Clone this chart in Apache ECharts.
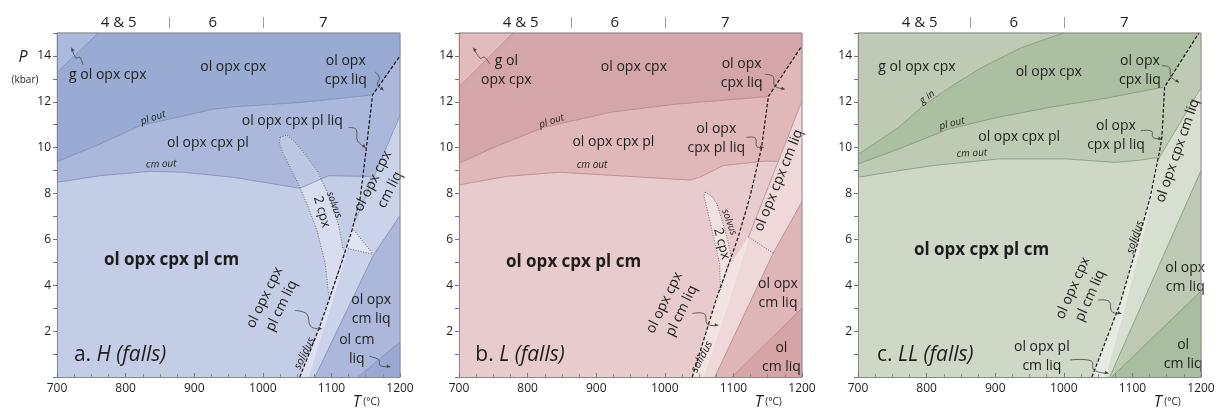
<!DOCTYPE html>
<html><head><meta charset="utf-8">
<script src="https://cdn.jsdelivr.net/npm/echarts@6/dist/echarts.min.js"></script>
<style>html,body{margin:0;padding:0;background:#fff}#c{width:1225px;height:410px}</style>
</head><body><div id="c"></div>
<script>
// ---------- data (T in °C, P in kbar) ----------
const TOP_GROUP_LABELS = ['4 & 5', '6', '7'];
const TOP_GROUP_T = [790, 927, 1088];
const TOP_SEPARATOR_T = [863, 1000];

// Panel a: H (falls)
const A_G_IN = [[700,13.27],[760,15]];
const A_PL_OUT = [[700,9.39],[763,10.16],[821,10.96],[928,11.68],[957,11.78],[1054,11.97],[1160,12.3]];
const A_CM_OUT = [[700,8.49],[763,8.78],[836,8.97],[884,8.93],[957,8.71],[1054,8.23],[1096,8.78],[1147,8.75]];
const A_SOLIDUS = [[1054,0],[1083,2.2],[1098,3.5],[1115,5.0],[1130,6.4],[1142,7.8],[1151,10.0],[1160,12.3],[1200,14.0]];
const A_L1 = [[1200,11.4],[1133,6.7]];
const A_M = [[1133,6.7],[1104,3.6],[1066,0]];
const A_L2 = [[1200,7.04],[1161,5.3],[1076,0]];
const A_L3 = [[1200,1.53],[1139,0]];
const A_TRIANGLE = [[1130,6.5],[1161,5.35],[1124,5.6]];
const A_SOLVUS = [[1025,10.45],[1035,10.55],[1045,10.3],[1062,9.7],[1079,9.0],[1090,8.3],[1098,7.84],[1110,6.68],[1117,5.6],[1120,5.5],[1115,5.0],[1098,3.5],[1096,3.6],[1091,4.94],[1079,6.39],[1065,7.5],[1054,8.27],[1042,9.0],[1030,9.72],[1024,10.2]];
const A_SOLVUS_UPPER = [[1054,8.23],[1042,9.0],[1030,9.72],[1024,10.2],[1025,10.45],[1035,10.55],[1045,10.3],[1062,9.7],[1079,9.0],[1083,8.64]];

// Panel b: L (falls)
const B_G_IN = [[700,12.65],[779,15]];
const B_PL_OUT = [[700,9.32],[750,10.0],[823,10.88],[920,11.54],[1017,11.9],[1151,12.23]];
const B_CM_OUT = [[700,8.38],[770,8.75],[847,8.93],[969,8.71],[1037,8.59],[1051,8.71],[1085,9.22],[1144,9.41]];
const B_SOLIDUS = [[1040,0],[1076,3.49],[1090,4.65],[1107,6.1],[1124,7.84],[1141,10.0],[1151,12.23],[1200,14.45]];
const B_L1 = [[1200,12.04],[1122,6.1]];
const B_M = [[1122,6.1],[1094,3.4],[1056,0]];
const B_L2 = [[1200,7.65],[1158,5.4],[1073,0]];
const B_L3 = [[1200,3.0],[1098,0]];
const B_DOTTED = [[1122,6.1],[1158,5.4]];
const B_SOLVUS = [[1059,8.06],[1068,7.9],[1076,7.55],[1085,6.68],[1093,5.81],[1097,5.2],[1093,4.9],[1081,3.8],[1080,4.94],[1071,6.1],[1061,7.4],[1057,7.9]];

// Panel c: LL (falls)
const C_G_IN = [[700,9.7],[759,10.88],[798,11.9],[840,12.75],[880,13.49],[938,14.36],[987,14.87],[1000,15]];
const C_PL_OUT = [[700,9.29],[760,9.95],[832,10.81],[900,11.3],[978,11.75],[1060,12.15],[1147,12.65]];
const C_CM_OUT = [[700,8.71],[760,9.0],[809,9.22],[906,9.51],[1003,9.51],[1075,9.36],[1110,9.45],[1130,9.55]];
const C_SOLIDUS = [[1041,0],[1082,3.2],[1106,5.67],[1126,7.84],[1140,9.9],[1143,10.45],[1147,12.65],[1197,15]];
const C_L1 = [[1200,12.62],[1138,9.5]];
const C_M = [[1138,9.5],[1118,6.5],[1088,3.0],[1060,0]];
const C_L2 = [[1200,9.0],[1067,0]];
const C_L3 = [[1200,3.75],[1070,0]];

// ---------- styles / layout ----------
const FONT = '"Open Sans", "DejaVu Sans", sans-serif';
const TXT = '#1d1d1b';
const PANELS = [
  { left:57, title:['a. ','H (falls)'], titleT:792,
    gIn:A_G_IN, plOut:A_PL_OUT, cmOut:A_CM_OUT, solidus:A_SOLIDUS, L1:A_L1, M:A_M, L2:A_L2, L3:A_L3,
    solvus:A_SOLVUS, solvusUpper:A_SOLVUS_UPPER, triangle:A_TRIANGLE,
    dotted:[[A_TRIANGLE[0],A_TRIANGLE[1]],[A_TRIANGLE[2],A_TRIANGLE[1]]],
    col:{dark:'#9aabd3', g:'#abb9dc', medium:'#abb8dc', base:'#c4cde6', band:'#cbd3ea', strip:'#dce1f1',
         tri:'#e0e5f3', solUp:'#bdc7e4', sol:'#d8deef', olopx:'#abb7db', olcm:'#99a9d2', line:'#7e8eb9', mline:'#e4e8f4'},
    labels:[
      {t:'g ol opx cpx', T:774, P:13.17},
      {t:'ol opx cpx', T:957, P:13.53},
      {t:'ol opx\ncpx liq', T:1121, P:13.38},
      {t:'pl out', T:840, P:11.3, r:18, s:10, i:1},
      {t:'ol opx cpx pl liq', T:1043, P:11.15},
      {t:'ol opx cpx pl', T:920, P:10.19},
      {t:'cm out', T:852, P:9.28, r:2, s:10, i:1},
      {t:'solvus', T:1104, P:7.5, r:-69, s:10, i:1},
      {t:'2 cpx', T:1086, P:7.2, r:-74, s:13},
      {t:'ol opx cpx\ncm liq', T:1173, P:8.35, r:63},
      {t:'ol opx cpx pl cm', T:867, P:5.09, s:17, b:1},
      {t:'ol opx cpx\npl cm liq', T:1015, P:3.28, r:64},
      {t:'solidus', T:1061, P:1.03, r:64, s:11, i:1},
      {t:'ol opx\ncm liq', T:1158, P:2.95},
      {t:'ol cm\nliq', T:1137, P:1.19}
    ],
    arrows:[
      [[738,13.6],[733,13.95],[728,13.9],[721,14.36]],
      [[1164,13.3],[1170,13.05],[1167,12.75],[1176,12.5]],
      [[1125,10.88],[1136,10.8],[1138,10.3],[1150,10.0]],
      [[1047,2.9],[1064,2.75],[1070,2.2],[1086,2.1]],
      [[1155,0.9],[1169,0.75],[1171,0.5],[1186,0.45]]
    ]},
  { left:459, title:['b. ','L (falls)'], titleT:789,
    gIn:B_G_IN, plOut:B_PL_OUT, cmOut:B_CM_OUT, solidus:B_SOLIDUS, L1:B_L1, M:B_M, L2:B_L2, L3:B_L3,
    solvus:B_SOLVUS, dotted:[B_DOTTED],
    col:{dark:'#d5a6a9', g:'#e2bbbd', medium:'#e0b8ba', base:'#e8cbcc', band:'#eed8d8', strip:'#f3e4e4',
         sol:'#f2e2e2', olopx:'#dfb6b8', olcm:'#d4a4a7', line:'#b6868a', mline:'#f6eaea'},
    labels:[
      {t:'g ol\nopx cpx', T:769, P:13.38},
      {t:'ol opx cpx', T:955, P:13.53},
      {t:'ol opx\ncpx liq', T:1112, P:13.24},
      {t:'pl out', T:835, P:11.15, r:18, s:10, i:1},
      {t:'ol opx cpx pl', T:925, P:10.23},
      {t:'cm out', T:894, P:9.22, r:0, s:10, i:1},
      {t:'ol opx\ncpx pl liq', T:1075, P:10.41},
      {t:'solvus', T:1094, P:6.75, r:-70, s:10, i:1},
      {t:'2 cpx', T:1083, P:5.81, r:-75, s:13},
      {t:'ol opx cpx cm liq', T:1166, P:8.57, r:68},
      {t:'ol opx cpx pl cm', T:867, P:5.01, s:17, b:1},
      {t:'ol opx cpx\npl cm liq', T:1012, P:3.06, r:64},
      {t:'solidus', T:1054, P:0.88, r:62, s:11, i:1},
      {t:'ol opx\ncm liq', T:1165, P:3.63},
      {t:'ol\ncm liq', T:1170, P:0.85}
    ],
    arrows:[
      [[745,13.64],[737,13.95],[731,13.9],[721,14.36]],
      [[1146,13.2],[1158,13.1],[1160,12.7],[1175,12.55]],
      [[1119,10.45],[1132,10.42],[1134,10.05],[1144,10.0]],
      [[1040,2.77],[1058,2.75],[1062,2.3],[1078,2.26]]
    ]},
  { left:858, title:['c. ','LL (falls)'], titleT:798,
    gIn:C_G_IN, plOut:C_PL_OUT, cmOut:C_CM_OUT, solidus:C_SOLIDUS, L1:C_L1, M:C_M, L2:C_L2, L3:C_L3,
    dotted:[],
    col:{dark:'#abbfa2', g:'#bdcbb4', medium:'#bdcbb4', base:'#cfd8c7', band:'#d7dfd0', strip:'#e6ebe1',
         olopx:'#bccab4', olcm:'#a9bda0', line:'#819879', mline:'#eef1ea'},
    labels:[
      {t:'g ol opx cpx', T:786, P:13.53},
      {t:'g in', T:801, P:12.2, r:35, s:10, i:1},
      {t:'pl out', T:837, P:11.05, r:14, s:10, i:1},
      {t:'ol opx cpx', T:978, P:13.28},
      {t:'ol opx\ncpx liq', T:1111, P:13.38},
      {t:'ol opx cpx pl', T:935, P:10.45},
      {t:'cm out', T:866, P:9.75, r:3, s:10, i:1},
      {t:'ol opx\ncpx pl liq', T:1076, P:10.53},
      {t:'ol opx cpx pl cm', T:880, P:5.52, s:17, b:1},
      {t:'ol opx cpx\npl cm liq', T:1026, P:3.71, r:66},
      {t:'solidus', T:1104, P:6.1, r:72, s:11, i:1},
      {t:'ol opx cpx cm liq', T:1166, P:9.87, r:71},
      {t:'ol opx\ncm liq', T:1177, P:4.33},
      {t:'ol\ncm liq', T:1174, P:1.0},
      {t:'ol opx pl\ncm liq', T:968, P:0.88}
    ],
    arrows:[
      [[1143,13.57],[1154,13.5],[1156,13.1],[1168,12.84]],
      [[1112,10.74],[1128,10.72],[1130,10.45],[1143,10.38]],
      [[1050,3.35],[1066,3.3],[1070,2.85],[1084,2.77]],
      [[1009,0.74],[1040,0.7],[1044,0.3],[1065,0.16]]
    ]}
];

function interpT(line, P) {
  for (let i = 0; i < line.length - 1; i++) {
    const a = line[i], b = line[i + 1];
    const lo = Math.min(a[1], b[1]), hi = Math.max(a[1], b[1]);
    if (P >= lo && P <= hi && hi > lo) return a[0] + (P - a[1]) / (b[1] - a[1]) * (b[0] - a[0]);
  }
  return line[line.length - 1][0];
}

function makeSeries(spec, idx) {
  return {
    type: 'custom', coordinateSystem: 'cartesian2d', xAxisIndex: idx, yAxisIndex: idx,
    data: [[700, 0]], clip: false, silent: true, z: 2,
    renderItem: function (params, api) {
      const c = p => api.coord(p);
      const ch = [];
      const col = spec.col;
      const poly = (pts, fill) => ch.push({ type: 'polygon', shape: { points: pts.map(c) }, style: { fill: fill, stroke: fill, lineWidth: 0.3 } });
      const line = (pts, stroke, w, dash) => ch.push({ type: 'polyline', shape: { points: pts.map(c) }, style: { stroke: stroke, lineWidth: w, lineDash: dash || null, fill: null } });
      const T0 = 700, T1 = 1200, PT = 15;
      // regions
      poly([[T0,0],[T1,0],[T1,PT],[T0,PT]], col.base);
      const cmEnd = spec.cmOut[spec.cmOut.length - 1];
      const ext = [interpT(spec.L1, cmEnd[1]), cmEnd[1]];
      poly(spec.cmOut.concat([ext, spec.L1[0], [T1,PT], [T0,PT]]), col.medium);
      const kink = spec.plOut[spec.plOut.length - 1];
      const solUp = spec.solidus.filter(p => p[1] > kink[1]);
      const last = solUp[solUp.length - 1];
      poly(spec.plOut.concat(solUp, [[last[0], PT], [T0, PT]]), col.dark);
      poly(spec.gIn.concat([[T0, PT]]), col.g);
      poly(spec.L1.concat(spec.M.slice(1), spec.L2.slice().reverse()), col.band);
      const solLow = spec.solidus.filter(p => p[1] < spec.M[0][1]);
      poly(solLow.concat(spec.M), col.strip);
      if (spec.triangle) poly(spec.triangle, col.tri);
      poly(spec.L2.concat([[T1, 0]]), col.olopx);
      poly(spec.L3.concat([[T1, 0]]), col.olcm);
      if (spec.solvus) poly(spec.solvus, col.sol);
      if (spec.solvusUpper) poly(spec.solvusUpper, col.solUp);
      // boundaries
      line(spec.M, col.mline, 0.8);
      line(spec.gIn, col.line, 0.8);
      line(spec.plOut, col.line, 0.8);
      line(spec.cmOut.concat([ext]), col.line, 0.8);
      line(spec.L1, col.line, 0.8);
      line(spec.L2, col.line, 0.8);
      line(spec.L3, col.line, 0.8);
      if (spec.solvus) line(spec.solvus.concat([spec.solvus[0]]), '#444', 0.8, [1, 1.6]);
      spec.dotted.forEach(d => line(d, '#444', 0.8, [1, 1.6]));
      line(spec.solidus, '#111', 1.2, [3.5, 2]);
      // arrows
      spec.arrows.forEach(a => {
        const pts = a.map(c);
        ch.push({ type: 'polyline', shape: { points: pts, smooth: 0.4 }, style: { stroke: '#444', lineWidth: 0.8, fill: null } });
        const p1 = pts[pts.length - 2], p2 = pts[pts.length - 1];
        const ang = Math.atan2(p2[1] - p1[1], p2[0] - p1[0]);
        const h = 4;
        const l1 = [p2[0] - h * Math.cos(ang - 0.45), p2[1] - h * Math.sin(ang - 0.45)];
        const l2 = [p2[0] - h * Math.cos(ang + 0.45), p2[1] - h * Math.sin(ang + 0.45)];
        ch.push({ type: 'polygon', shape: { points: [p2, l1, l2] }, style: { fill: '#444' } });
      });
      // labels
      spec.labels.forEach(L => {
        const p = c([L.T, L.P]);
        const s = L.s || 14;
        ch.push({ type: 'text', x: p[0], y: p[1], rotation: (L.r || 0) * Math.PI / 180,
          style: { text: L.t, fill: TXT, fontFamily: FONT, fontSize: s, fontStyle: L.i ? 'italic' : 'normal',
                   fontWeight: L.b ? 'bold' : 'normal', align: 'center', verticalAlign: 'middle', lineHeight: Math.round(s * 1.38) } });
      });
      // panel title
      const tp = c([spec.titleT, 0.96]);
      ch.push({ type: 'text', x: tp[0], y: tp[1], style: {
        text: '{n|' + spec.title[0] + '}{i|' + spec.title[1] + '}', align: 'center', verticalAlign: 'middle',
        rich: { n: { fontFamily: FONT, fontSize: 21, fill: TXT }, i: { fontFamily: FONT, fontSize: 21, fontStyle: 'italic', fill: TXT } } } });
      // top group labels
      const topY = c([T0, PT])[1];
      TOP_GROUP_LABELS.forEach((t, k) => {
        const x = c([TOP_GROUP_T[k], PT])[0];
        ch.push({ type: 'text', x: x, y: topY - 10, style: { text: t, fill: TXT, fontFamily: FONT, fontSize: 15, align: 'center', verticalAlign: 'middle' } });
      });
      TOP_SEPARATOR_T.forEach(t => {
        const x = Math.round(c([t, PT])[0]) + 0.5;
        ch.push({ type: 'line', shape: { x1: x, y1: topY - 16, x2: x, y2: topY - 5 }, style: { stroke: '#9a9a9a', lineWidth: 1 } });
      });
      // x axis title
      const xt = c([1131, 0]);
      ch.push({ type: 'text', x: xt[0], y: xt[1] + 25, style: {
        text: '{t|T}{u| (°C)}', align: 'left', verticalAlign: 'middle',
        rich: { t: { fontFamily: FONT, fontSize: 16, fontStyle: 'italic', fill: TXT }, u: { fontFamily: FONT, fontSize: 10, fill: TXT } } } });
      if (idx === 0) {
        const yp = c([T0, 14]);
        ch.push({ type: 'text', x: yp[0] - 34, y: yp[1] + 2, style: { text: 'P', fill: TXT, fontFamily: FONT, fontSize: 16, fontStyle: 'italic', align: 'center', verticalAlign: 'middle' } });
        ch.push({ type: 'text', x: yp[0] - 32, y: yp[1] + 24, style: { text: '(kbar)', fill: TXT, fontFamily: FONT, fontSize: 10, align: 'center', verticalAlign: 'middle' } });
      }
      // frame top/right
      const a0 = c([T0, PT]), a1 = c([T1, PT]), a2 = c([T1, 0]);
      ch.push({ type: 'polyline', shape: { points: [a0, a1, a2] }, style: { stroke: '#8a8a8a', lineWidth: 1, fill: null } });
      return { type: 'group', children: ch };
    }
  };
}

const chart = echarts.init(document.getElementById('c'), null, { renderer: 'canvas' });
const grids = [], xAxes = [], yAxes = [], series = [];
PANELS.forEach((p, i) => {
  grids.push({ left: p.left, top: 33, width: 343, height: 344, containLabel: false });
  xAxes.push({ gridIndex: i, type: 'value', min: 700, max: 1200, interval: 100, z: 5,
    axisLine: { show: true, lineStyle: { color: '#8a8a8a', width: 1 } },
    axisTick: { show: true, inside: true, length: 4, lineStyle: { color: '#777' } },
    minorTick: { show: true, splitNumber: 4, length: 3, lineStyle: { color: '#888' } },
    axisLabel: { color: TXT, fontSize: 12, fontFamily: FONT, margin: 6, formatter: v => String(v) },
    splitLine: { show: false }, minorSplitLine: { show: false } });
  yAxes.push({ gridIndex: i, type: 'value', min: 0, max: 15, interval: 1, z: 5,
    axisLine: { show: true, lineStyle: { color: '#8a8a8a', width: 1 } },
    axisTick: { show: true, inside: false, length: 4, lineStyle: { color: '#777' } },
    axisLabel: { color: TXT, fontSize: 12, fontFamily: FONT, margin: 6,
      formatter: v => (v > 0 && v % 2 === 0) ? String(v) : '' },
    splitLine: { show: false } });
  series.push(makeSeries(p, i));
});
chart.setOption({ animation: false, backgroundColor: '#ffffff', grid: grids, xAxis: xAxes, yAxis: yAxes, series: series });
</script></body></html>
